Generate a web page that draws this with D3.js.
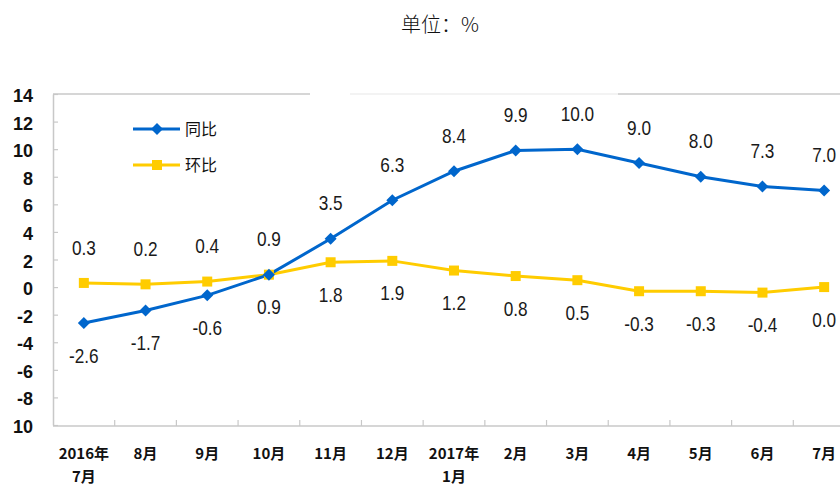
<!DOCTYPE html>
<html>
<head>
<meta charset="utf-8">
<script src="https://cdn.jsdelivr.net/npm/d3@7"></script>
<style>
  body { margin: 0; background: #fff; }
  svg { display: block; }
</style>
</head>
<body>
<script>
// 資料
var months = ["2016年\n7月", "8月", "9月", "10月", "11月", "12月", "2017年\n1月", "2月", "3月", "4月", "5月", "6月", "7月"];
var yoy = [-2.6, -1.7, -0.6, 0.9, 3.5, 6.3, 8.4, 9.9, 10.0, 9.0, 8.0, 7.3, 7.0];   // 同比
var mom = [0.3, 0.2, 0.4, 0.9, 1.8, 1.9, 1.2, 0.8, 0.5, -0.3, -0.3, -0.4, 0.0];    // 环比
var yTicks = [14, 12, 10, 8, 6, 4, 2, 0, -2, -4, -6, -8, -10];
var yTickLabels = ["14", "12", "10", "8", "6", "4", "2", "0", "-2", "-4", "-6", "-8", "10"];

var width = 840, height = 486;
var plotLeft = 53, plotRight = 855, plotTop = 94, plotBottom = 425;
var blue = "#0066cc", yellow = "#ffcc00", gray = "#c8c8c8";

var svg = d3.select("body").append("svg")
    .attr("width", width)
    .attr("height", height);

var x = d3.scaleBand().domain(d3.range(months.length)).range([plotLeft, plotRight]).padding(0);
var y = d3.scaleLinear().domain([-10, 14]).range([plotBottom, plotTop]);
var cx = function(i) { return x(i) + x.bandwidth() / 2; };

// 標題
svg.append("text")
    .attr("x", 440).attr("y", 25)
    .attr("dy", "0.35em")
    .attr("text-anchor", "middle")
    .style("font-family", "'Noto Sans CJK SC', sans-serif")
    .style("font-size", "20px")
    .style("font-weight", 300)
    .attr("fill", "#111")
    .text("单位：%");

// 上方邊框(原圖中間有斷開)
svg.append("line").attr("x1", plotLeft).attr("x2", 310).attr("y1", plotTop).attr("y2", plotTop)
    .attr("stroke", gray).attr("stroke-width", 1.5);
svg.append("line").attr("x1", 350).attr("x2", 618).attr("y1", plotTop).attr("y2", plotTop)
    .attr("stroke", "#efefef").attr("stroke-width", 1.5);
svg.append("line").attr("x1", 618).attr("x2", width).attr("y1", plotTop).attr("y2", plotTop)
    .attr("stroke", gray).attr("stroke-width", 1.5);

// Y 軸
var yAxis = d3.axisLeft(y)
    .tickValues(yTicks)
    .tickFormat(function(d, i) { return yTickLabels[i]; })
    .tickSizeInner(-5)
    .tickSizeOuter(0)
    .tickPadding(20);

var gy = svg.append("g")
    .attr("transform", "translate(" + plotLeft + ",0)")
    .call(yAxis);
gy.select(".domain").attr("stroke", gray).attr("stroke-width", 1.5);
gy.selectAll(".tick line").attr("stroke", gray).attr("stroke-width", 1.2);
gy.selectAll(".tick text")
    .attr("dy", "0.42em")
    .attr("fill", "#111")
    .style("font-family", "Arial, 'Liberation Sans', sans-serif")
    .style("font-size", "18px")
    .style("font-weight", "bold");

// X 軸
var axisY = plotBottom + 1;
svg.append("line")
    .attr("x1", plotLeft).attr("x2", width)
    .attr("y1", axisY).attr("y2", axisY)
    .attr("stroke", gray).attr("stroke-width", 1.5);

svg.selectAll("line.xtick")
    .data(d3.range(1, months.length))
    .enter()
    .append("line")
    .attr("class", "xtick")
    .attr("x1", function(i) { return x(i); })
    .attr("x2", function(i) { return x(i); })
    .attr("y1", axisY).attr("y2", axisY - 6)
    .attr("stroke", gray).attr("stroke-width", 1.2);

var xl = svg.selectAll("text.xlabel")
    .data(months)
    .enter()
    .append("text")
    .attr("class", "xlabel")
    .attr("text-anchor", "middle")
    .attr("fill", "#111")
    .style("font-family", "'Noto Sans CJK SC', sans-serif")
    .style("font-size", "15px")
    .style("font-weight", "bold");

xl.each(function(d, i) {
    var lines = d.split("\n");
    var t = d3.select(this);
    lines.forEach(function(s, k) {
        t.append("tspan")
            .attr("x", cx(i))
            .attr("y", 459 + k * 23)
            .text(s);
    });
});

// 折線
var line = d3.line()
    .x(function(d, i) { return cx(i); })
    .y(function(d) { return y(d); });

svg.append("path").datum(mom)
    .attr("fill", "none").attr("stroke", yellow).attr("stroke-width", 3)
    .attr("d", line);
svg.append("path").datum(yoy)
    .attr("fill", "none").attr("stroke", blue).attr("stroke-width", 3)
    .attr("d", line);

// 標記點
svg.selectAll("rect.mom")
    .data(mom)
    .enter()
    .append("rect")
    .attr("class", "mom")
    .attr("x", function(d, i) { return cx(i) - 5; })
    .attr("y", function(d) { return y(d) - 5; })
    .attr("width", 10).attr("height", 10)
    .attr("fill", yellow);

svg.selectAll("path.yoy")
    .data(yoy)
    .enter()
    .append("path")
    .attr("class", "yoy")
    .attr("transform", function(d, i) { return "translate(" + cx(i) + "," + y(d) + ") rotate(45)"; })
    .attr("d", d3.symbol().type(d3.symbolSquare).size(72))
    .attr("fill", blue);

// 數據標籤: 較高的線標在上方, 較低的標在下方
function addLabels(data, other, cls, tieUp) {
    svg.selectAll("text." + cls)
        .data(data)
        .enter()
        .append("text")
        .attr("class", cls)
        .attr("text-anchor", "middle")
        .attr("dy", "0.36em")
        .attr("fill", "#1a1a1a")
        .style("font-family", "Arial, 'Liberation Sans', sans-serif")
        .style("font-size", "21px")
        .attr("transform", function(d, i) {
            var up = d > other[i] || (d === other[i] && tieUp);
            var ly = y(d) + (up ? -36 : 32);
            return "translate(" + cx(i) + "," + ly + ") scale(0.82,1)";
        })
        .text(function(d) { return d.toFixed(1); });
}
addLabels(yoy, mom, "lyoy", true);
addLabels(mom, yoy, "lmom", false);

// 圖例
var legend = svg.append("g").attr("transform", "translate(133,129)");
legend.append("line").attr("x1", 0).attr("x2", 47).attr("y1", 0).attr("y2", 0)
    .attr("stroke", blue).attr("stroke-width", 3);
legend.append("path")
    .attr("transform", "translate(24,0) rotate(45)")
    .attr("d", d3.symbol().type(d3.symbolSquare).size(72))
    .attr("fill", blue);
legend.append("text").attr("x", 52).attr("y", 0).attr("dy", "0.36em")
    .style("font-family", "'Noto Sans CJK SC', sans-serif")
    .style("font-size", "16px")
    .attr("fill", "#111")
    .text("同比");

legend.append("line").attr("x1", 0).attr("x2", 47).attr("y1", 36).attr("y2", 36)
    .attr("stroke", yellow).attr("stroke-width", 3);
legend.append("rect").attr("x", 19).attr("y", 31).attr("width", 10).attr("height", 10)
    .attr("fill", yellow);
legend.append("text").attr("x", 52).attr("y", 36).attr("dy", "0.36em")
    .style("font-family", "'Noto Sans CJK SC', sans-serif")
    .style("font-size", "16px")
    .attr("fill", "#111")
    .text("环比");
</script>
</body>
</html>
